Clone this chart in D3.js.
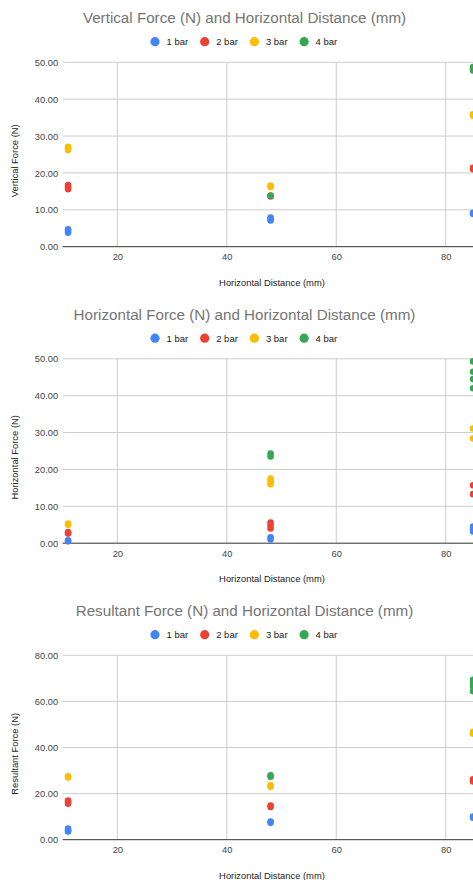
<!DOCTYPE html>
<html><head><meta charset="utf-8">
<script src="https://cdn.jsdelivr.net/npm/d3@7"></script>
<style>html,body{margin:0;padding:0;background:#fff;overflow:hidden}</style>
</head><body>
<svg id="c" width="473" height="880"></svg>
<script>
const seriesNames = ["1 bar", "2 bar", "3 bar", "4 bar"];
const seriesColors = ["#4285F4", "#EA4335", "#FBBC04", "#34A853"];
const xTicks = [20, 40, 60, 80];

// Vertical force [distance mm, force N]
const vert1 = [[11,3.8],[11,4.3],[11,4.7],[48,7.1],[48,7.5],[48,7.9],[85,8.9],[85,9.2]];
const vert2 = [[11,15.6],[11,16.1],[11,16.7],[48,13.6],[48,13.9],[85,21.0],[85,21.4]];
const vert3 = [[11,26.2],[11,26.7],[11,27.1],[48,16.2],[48,16.6],[85,35.5],[85,35.9]];
const vert4 = [[48,13.8],[85,47.8],[85,48.3],[85,48.7]];

// Horizontal force
const horz1 = [[11,0.5],[11,0.8],[48,1.0],[48,1.6],[85,3.2],[85,3.9],[85,4.5]];
const horz2 = [[11,2.6],[11,3.0],[48,4.0],[48,4.8],[48,5.6],[85,13.3],[85,15.7]];
const horz3 = [[11,5.0],[11,5.3],[48,16.0],[48,16.8],[48,17.5],[85,28.4],[85,31.1]];
const horz4 = [[48,23.5],[48,24.3],[85,42.0],[85,44.5],[85,46.5],[85,49.3]];

// Resultant force
const res1 = [[11,3.6],[11,4.1],[11,4.8],[48,7.3],[48,7.9],[85,9.5],[85,10.0]];
const res2 = [[11,15.6],[11,16.3],[11,17.0],[48,14.2],[48,14.8],[85,25.3],[85,26.2]];
const res3 = [[11,27.0],[11,27.5],[48,23.0],[48,23.6],[85,46.0],[85,46.8]];
const res4 = [[48,27.3],[48,27.9],[85,64.4],[85,66.5],[85,68.0],[85,69.4]];

const charts = [
  {title: "Vertical Force (N) and Horizontal Distance (mm)", yTitle: "Vertical Force (N)",
   yTicks: [0,10,20,30,40,50], yMax: 50, data: [vert1, vert2, vert3, vert4], dy: 0},
  {title: "Horizontal Force (N) and Horizontal Distance (mm)", yTitle: "Horizontal Force (N)",
   yTicks: [0,10,20,30,40,50], yMax: 50, data: [horz1, horz2, horz3, horz4], dy: 296.5},
  {title: "Resultant Force (N) and Horizontal Distance (mm)", yTitle: "Resultant Force (N)",
   yTicks: [0,20,40,60,80], yMax: 80, data: [res1, res2, res3, res4], dy: 593}
];
const xTitle = "Horizontal Distance (mm)";

const svg = d3.select("#c");
const font = "Arial, 'Liberation Sans', sans-serif";
const left = 62.6, top0 = 62.3, bot0 = 246.7;
const x = d3.scaleLinear().domain([10, 90]).range([left, left + 80 * 5.473]);

charts.forEach(ch => {
  const g = svg.append("g").attr("transform", `translate(0,${ch.dy})`);
  const y = d3.scaleLinear().domain([0, ch.yMax]).range([bot0, top0]);

  g.append("text").attr("x", 244.5).attr("y", 23).attr("text-anchor", "middle")
    .attr("font-family", font).attr("font-size", 15.2).attr("fill", "#757575").text(ch.title);

  // legend
  const lg = g.append("g");
  seriesNames.forEach((s, i) => {
    const cx = 155 + i * 49.7;
    lg.append("circle").attr("cx", cx).attr("cy", 41.7).attr("r", 4.6).attr("fill", seriesColors[i]);
    lg.append("text").attr("x", cx + 11.5).attr("y", 45.1).attr("font-family", font)
      .attr("font-size", 9.5).attr("fill", "#222").text(s);
  });

  // gridlines
  g.append("g").selectAll("line").data(ch.yTicks.filter(t => t > 0)).join("line")
    .attr("x1", left).attr("x2", 473).attr("y1", d => y(d)).attr("y2", d => y(d))
    .attr("stroke", "#cccccc").attr("stroke-width", 1);
  g.append("g").selectAll("line").data(xTicks).join("line")
    .attr("x1", d => x(d)).attr("x2", d => x(d)).attr("y1", top0).attr("y2", bot0)
    .attr("stroke", "#cccccc").attr("stroke-width", 1);

  // y axis labels
  const yAxis = d3.axisLeft(y).tickValues(ch.yTicks).tickFormat(d3.format(".2f")).tickSize(0).tickPadding(4.5);
  const ya = g.append("g").attr("transform", `translate(${left},0)`).call(yAxis);
  ya.select(".domain").remove();
  ya.selectAll("text").attr("font-family", font).attr("font-size", 9.3).attr("fill", "#444").attr("dy", "0.34em");

  // x axis labels
  const xAxis = d3.axisBottom(x).tickValues(xTicks).tickFormat(d3.format("d")).tickSize(0).tickPadding(7);
  const xa = g.append("g").attr("transform", `translate(0,${bot0})`).call(xAxis);
  xa.select(".domain").remove();
  xa.selectAll("text").attr("font-family", font).attr("font-size", 9.3).attr("fill", "#444");

  // baseline
  g.append("line").attr("x1", left).attr("x2", 473).attr("y1", y(0)).attr("y2", y(0))
    .attr("stroke", "#333").attr("stroke-width", 1);

  // axis titles
  g.append("text").attr("x", 272).attr("y", 285.6).attr("text-anchor", "middle")
    .attr("font-family", font).attr("font-size", 9.4).attr("fill", "#222").text(xTitle);
  g.append("text").attr("transform", "translate(18.3,160.8) rotate(-90)").attr("text-anchor", "middle")
    .attr("font-family", font).attr("font-size", 9.4).attr("fill", "#222").text(ch.yTitle);

  // points
  ch.data.forEach((pts, i) => {
    g.append("g").selectAll("circle").data(pts).join("circle")
      .attr("cx", d => x(d[0])).attr("cy", d => y(d[1])).attr("r", 3.3)
      .attr("fill", seriesColors[i]);
  });
});
</script>
</body></html>
